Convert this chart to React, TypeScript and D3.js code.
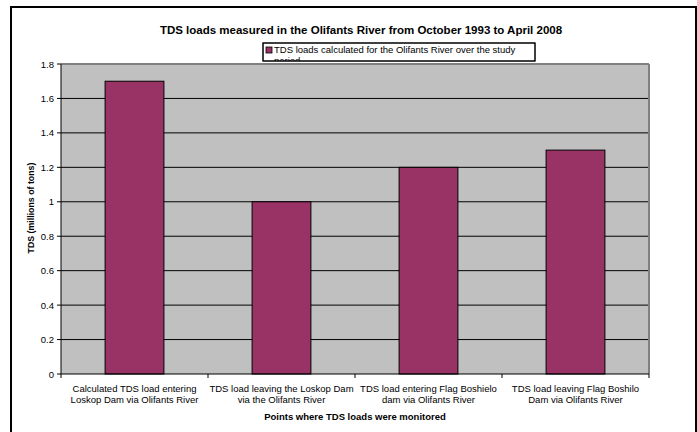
import React from "react";
import * as d3 from "d3";

const categories = [
  ["Calculated TDS load entering", "Loskop Dam via Olifants River"],
  ["TDS load leaving the Loskop Dam", "via the Olifants River"],
  ["TDS load entering Flag Boshielo", "dam via Olifants River"],
  ["TDS load leaving Flag Boshilo", "Dam via Olifants River"],
];
const values = [1.7, 1.0, 1.2, 1.3];
const yTicks = [0, 0.2, 0.4, 0.6, 0.8, 1, 1.2, 1.4, 1.6, 1.8];
const title = "TDS loads measured in the Olifants River from October 1993 to April 2008";
const legendLabel = "TDS loads calculated for the Olifants River over the study";
const legendLabel2 = "period";
const yTitle = "TDS (millions of tons)";
const xTitle = "Points where TDS loads were monitored";

const W = 697;
const H = 432;
const left = 61, right = 649, top = 64, bottom = 374;
const font = "Arial, 'Liberation Sans', sans-serif";

export default function App() {
  const x = d3.scaleBand<number>().domain(categories.map((_, i) => i)).range([left, right]).paddingInner(0.6).paddingOuter(0.3);
  const band = d3.scaleBand<number>().domain(categories.map((_, i) => i)).range([left, right]);
  const y = d3.scaleLinear().domain([0, 1.8]).range([bottom, top]);
  return (
    <svg width={W} height={H} style={{ position: "absolute", left: 0, top: 0, background: "#fff" }}>
      <rect x={0} y={0} width={W} height={H} fill="#fff" />
      <path d={`M11,${H} V7 H696 V${H}`} fill="none" stroke="#000" strokeWidth={2} />
      <text x={361} y={34} textAnchor="middle" fontFamily={font} fontWeight="bold" fontSize={11.5}>{title}</text>
      <rect x={left} y={top} width={right - left} height={bottom - top} fill="#c0c0c0" />
      {yTicks.map((t) => (
        <g key={t}>
          {t > 0 && t < 1.8 && <line x1={left} x2={right} y1={y(t)} y2={y(t)} stroke="#000" strokeWidth={1} />}
          <line x1={left - 4} x2={left} y1={y(t)} y2={y(t)} stroke="#000" />
          <text x={left - 7} y={y(t) + 3.5} textAnchor="end" fontFamily={font} fontSize={9.5} fill="#000">{t}</text>
        </g>
      ))}
      <line x1={left} x2={right} y1={top} y2={top} stroke="#808080" strokeWidth={2} />
      <line x1={right} x2={right} y1={top} y2={bottom} stroke="#808080" strokeWidth={2} />
      {values.map((v, i) => (
        <rect key={i} x={x(i)} y={y(v)} width={x.bandwidth()} height={bottom - y(v)} fill="#993366" stroke="#000" strokeWidth={1} />
      ))}
      <line x1={left} x2={left} y1={top} y2={bottom} stroke="#000" strokeWidth={1} />
      <line x1={left} x2={right} y1={bottom} y2={bottom} stroke="#000" strokeWidth={1} />
      {[0, 1, 2, 3, 4].map((i) => {
        const xx = i < 4 ? (band(i) as number) : right;
        return <line key={i} x1={xx} x2={xx} y1={bottom} y2={bottom + 4} stroke="#000" />;
      })}
      {categories.map((lines, i) => (
        <text key={i} textAnchor="middle" fontFamily={font} fontSize={9.5} fill="#000">
          {lines.map((l, j) => (
            <tspan key={j} x={(band(i) as number) + band.bandwidth() / 2} y={392 + j * 11}>{l}</tspan>
          ))}
        </text>
      ))}
      <text x={355} y={420} textAnchor="middle" fontFamily={font} fontWeight="bold" fontSize={9.5}>{xTitle}</text>
      <text transform={`translate(34,208) rotate(-90)`} textAnchor="middle" fontFamily={font} fontWeight="bold" fontSize={8.8}>{yTitle}</text>
      <defs>
        <clipPath id="legclip"><rect x={263} y={43} width={272} height={18} /></clipPath>
      </defs>
      <rect x={263} y={43} width={272} height={18} fill="#fff" stroke="#000" strokeWidth={1} />
      <g clipPath="url(#legclip)">
        <rect x={266} y={47} width={6} height={6} fill="#993366" stroke="#000" strokeWidth={0.8} />
        <text x={274} y={53} fontFamily={font} fontSize={9.5} fill="#000">{legendLabel}</text>
        <text x={274} y={64} fontFamily={font} fontSize={9.5} fill="#000">{legendLabel2}</text>
      </g>
      <rect x={263} y={43} width={272} height={18} fill="none" stroke="#000" strokeWidth={1} />
    </svg>
  );
}
